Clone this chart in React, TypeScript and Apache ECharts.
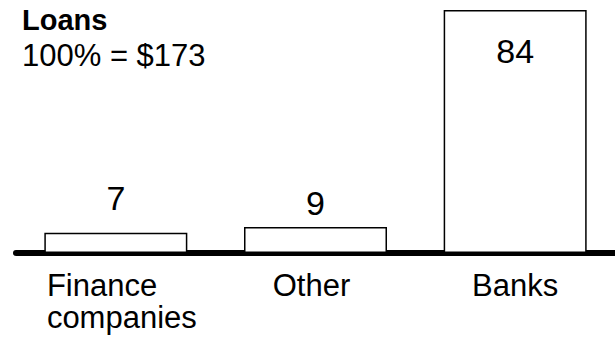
import React, { useEffect, useRef } from "react";
import * as echarts from "echarts";

const categories = ["Finance\ncompanies", "Other", "Banks"];
const values = [7, 9, 84];
const titleText = "Loans";
const subtitleText = "100% = $173";

const FONT = "'Liberation Sans', Arial, Helvetica, sans-serif";

export default function App() {
  const ref = useRef<HTMLDivElement>(null);
  useEffect(() => {
    document.body.style.margin = "0";
    const chart = echarts.init(ref.current!, null, { renderer: "svg" });
    const labelCfg = [
      { position: "top", distance: 18 },
      { position: "top", distance: 7 },
      { position: "insideTop", distance: 24 },
    ];
    const catPadding = [
      [0, 0, 0, 12],
      [0, 8, 0, 0],
      [0, 0, 0, 0],
    ];
    chart.setOption({
      animation: false,
      textStyle: { fontFamily: FONT },
      title: {
        text: titleText,
        subtext: subtitleText,
        left: 17,
        top: 0,
        itemGap: 5,
        textStyle: { fontFamily: FONT, fontSize: 29, lineHeight: 30, fontWeight: "bold", color: "#000" },
        subtextStyle: { fontFamily: FONT, fontSize: 31, lineHeight: 30, color: "#000" },
      },
      grid: { left: 16, width: 602, top: 10, bottom: 84 },
      xAxis: {
        type: "category",
        data: categories.map((c, i) => ({ value: c, textStyle: { padding: catPadding[i] } })),
        axisTick: { show: false },
        axisLine: { lineStyle: { color: "#000", width: 6 } },
        axisLabel: {
          color: "#000",
          fontSize: 31,
          fontFamily: FONT,
          margin: 16,
          lineHeight: 32,
          interval: 0,
          formatter: (v: string) =>
            v
              .split("\n")
              .map((l) => `{a|${l}}`)
              .join("\n"),
          rich: { a: { align: "left", fontSize: 31, color: "#000", fontFamily: FONT, lineHeight: 32 } },
        },
      },
      yAxis: {
        type: "value",
        min: 0,
        max: 84,
        show: false,
        splitLine: { show: false },
      },
      series: [
        {
          type: "bar",
          barWidth: 143,
          data: values.map((v, i) => ({
            value: v,
            label: {
              show: true,
              position: labelCfg[i].position,
              distance: labelCfg[i].distance,
              fontSize: 34,
              color: "#000",
              fontFamily: FONT,
            },
          })),
          itemStyle: { color: "#fff", borderColor: "#000", borderWidth: 1.5 },
        },
      ],
    });
    return () => chart.dispose();
  }, []);
  return <div ref={ref} style={{ width: 615, height: 337 }} />;
}
